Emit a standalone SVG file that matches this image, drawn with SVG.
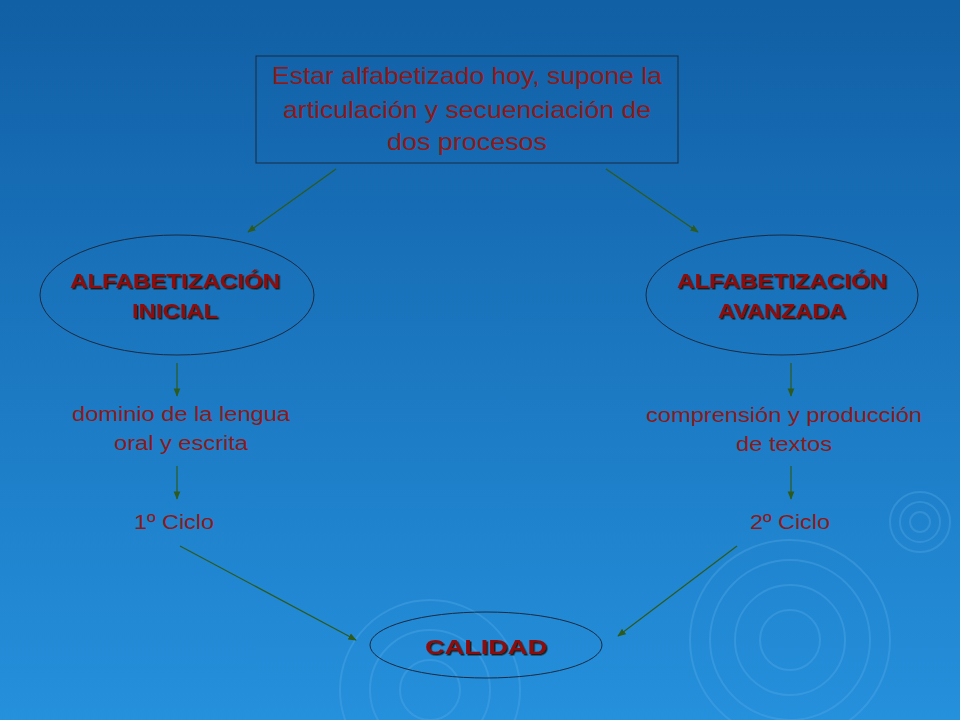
<svg xmlns="http://www.w3.org/2000/svg" width="960" height="720" viewBox="0 0 960 720">
<defs>
<linearGradient id="bg" x1="0" y1="0" x2="0" y2="1"><stop offset="0" stop-color="#115fa5"/><stop offset="1" stop-color="#2590dc"/></linearGradient>
<marker id="ah" viewBox="0 0 10 10" refX="9" refY="5" markerWidth="7" markerHeight="7" orient="auto"><path d="M0,1 L10,5 L0,9 z" fill="#2e5a1c"/></marker>
<filter id="sh"><feDropShadow dx="1.5" dy="1.5" stdDeviation="0.5" flood-color="#1a1a1a"/></filter>
</defs>
<style>
.ln{stroke:#2e5a1c;stroke-width:1.2;fill:none;marker-end:url(#ah)}
.sh{fill:none;stroke:#1a2a40;stroke-width:1}
.t{font-family:"Liberation Sans",Arial,sans-serif;fill:#8b1a1a;text-anchor:middle}
.b{font-weight:bold;font-size:21px;fill:#8b0f0f;filter:url(#sh)}
.r{fill:none;stroke:#5fb3ec;stroke-opacity:0.3;stroke-width:2}
</style>
<rect width="960" height="720" fill="url(#bg)"/>
<g>
<circle class="r" cx="790" cy="640" r="30"/><circle class="r" cx="790" cy="640" r="55"/><circle class="r" cx="790" cy="640" r="80"/><circle class="r" cx="790" cy="640" r="100"/>
<circle class="r" cx="920" cy="522" r="10"/><circle class="r" cx="920" cy="522" r="20"/><circle class="r" cx="920" cy="522" r="30"/>
<circle class="r" cx="430" cy="690" r="30"/><circle class="r" cx="430" cy="690" r="60"/><circle class="r" cx="430" cy="690" r="90"/>
</g>
<g id="top"><rect class="sh" x="256" y="56" width="422" height="107"/>
<text class="t" font-size="24"><tspan x="467" y="84" textLength="390" lengthAdjust="spacingAndGlyphs">Estar alfabetizado hoy, supone la</tspan><tspan x="467" y="118" textLength="368" lengthAdjust="spacingAndGlyphs">articulación y secuenciación de</tspan><tspan x="467" y="150" textLength="160" lengthAdjust="spacingAndGlyphs">dos procesos</tspan></text></g>
<g id="inicial"><ellipse class="sh" cx="177" cy="295" rx="137" ry="60"/>
<text class="t b"><tspan x="175" y="288" textLength="210" lengthAdjust="spacingAndGlyphs">ALFABETIZACIÓN</tspan><tspan x="175" y="318" textLength="86" lengthAdjust="spacingAndGlyphs">INICIAL</tspan></text></g>
<g id="avanzada"><ellipse class="sh" cx="782" cy="295" rx="136" ry="60"/>
<text class="t b"><tspan x="782" y="288" textLength="210" lengthAdjust="spacingAndGlyphs">ALFABETIZACIÓN</tspan><tspan x="782" y="318" textLength="128" lengthAdjust="spacingAndGlyphs">AVANZADA</tspan></text></g>
<g id="dominio"><text class="t" font-size="20"><tspan x="181" y="421" textLength="218" lengthAdjust="spacingAndGlyphs">dominio de la lengua</tspan><tspan x="181" y="450" textLength="134" lengthAdjust="spacingAndGlyphs">oral y escrita</tspan></text></g>
<g id="comprension"><text class="t" font-size="20"><tspan x="784" y="422" textLength="276" lengthAdjust="spacingAndGlyphs">comprensión y producción</tspan><tspan x="784" y="451" textLength="96" lengthAdjust="spacingAndGlyphs">de textos</tspan></text></g>
<g id="ciclo1"><text class="t" font-size="20" x="174" y="529" textLength="80" lengthAdjust="spacingAndGlyphs">1º Ciclo</text></g>
<g id="ciclo2"><text class="t" font-size="20" x="790" y="529" textLength="80" lengthAdjust="spacingAndGlyphs">2º Ciclo</text></g>
<g id="calidad"><ellipse class="sh" cx="486" cy="645" rx="116" ry="33"/>
<text class="t b" font-size="24" x="486" y="654" textLength="122" lengthAdjust="spacingAndGlyphs">CALIDAD</text></g>
<g id="connectors">
<line class="ln" x1="336" y1="169" x2="248" y2="232"/>
<line class="ln" x1="606" y1="169" x2="698" y2="232"/>
<line class="ln" x1="177" y1="363" x2="177" y2="396"/>
<line class="ln" x1="791" y1="363" x2="791" y2="396"/>
<line class="ln" x1="177" y1="466" x2="177" y2="499"/>
<line class="ln" x1="791" y1="466" x2="791" y2="499"/>
<line class="ln" x1="180" y1="546" x2="356" y2="640"/>
<line class="ln" x1="737" y1="546" x2="618" y2="636"/>
</g>
</svg>
